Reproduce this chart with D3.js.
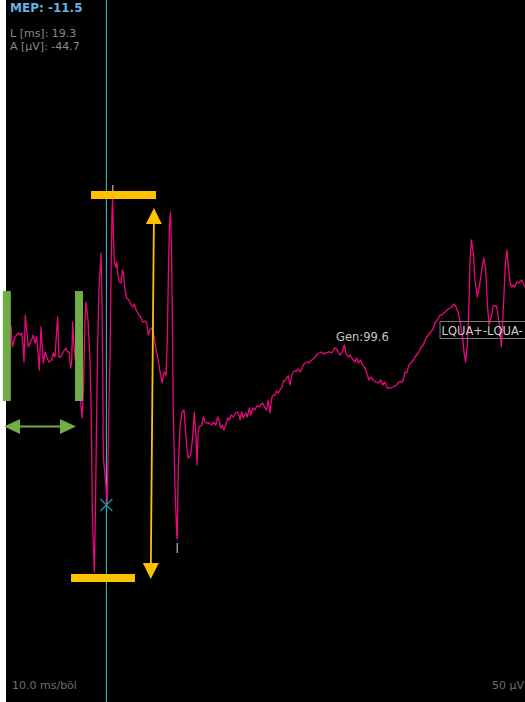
<!DOCTYPE html>
<html>
<head>
<meta charset="utf-8">
<script src="https://cdn.jsdelivr.net/npm/d3@7"></script>
<style>
  html, body { margin: 0; padding: 0; background: #ffffff; }
  svg { display: block; }
</style>
</head>
<body>
<svg id="chart" width="525" height="702"></svg>
<script>
// ---- Data (time in ms, amplitude in µV) ----
const traceTime = [0.96,1.21,1.73,2.37,2.83,3.02,3.33,3.46,3.71,3.98,4.29,4.62,5.06,5.25,5.58,5.90,6.21,6.40,6.73,6.98,7.17,7.50,7.83,8.27,8.79,9.10,9.42,9.75,9.94,10.19,10.52,11.02,11.48,11.87,12.12,12.44,12.63,12.83,13.08,13.46,13.85,14.33,14.62,14.90,15.19,15.38,15.77,16.15,16.35,16.46,16.60,16.83,16.98,17.17,17.37,17.60,17.88,18.27,18.46,18.60,18.71,19.04,19.29,19.48,19.65,19.81,20.00,20.19,20.38,20.50,20.63,20.83,21.10,21.29,21.48,21.79,22.12,22.40,22.60,22.88,23.21,23.65,24.04,24.37,24.67,25.10,25.44,25.87,26.29,26.73,27.06,27.37,27.69,28.02,28.37,28.85,29.29,29.62,30.06,30.29,30.58,30.77,31.02,31.21,31.44,31.63,31.83,32.02,32.17,32.50,32.83,32.92,33.13,33.46,33.85,34.23,34.75,35.06,35.52,35.90,36.21,36.54,36.73,36.98,37.17,37.63,37.94,38.27,38.60,39.04,39.56,39.87,40.33,40.71,40.96,41.29,41.60,41.92,42.25,42.63,42.94,43.27,43.71,44.17,44.48,44.81,45.00,45.33,45.63,46.10,46.40,46.79,47.06,47.44,47.88,48.21,48.65,48.94,49.37,49.71,50.13,50.44,50.77,51.10,51.40,51.73,52.02,52.37,52.69,53.02,53.33,53.65,53.98,54.29,54.62,54.94,55.25,55.54,55.90,56.21,56.60,57.06,57.50,57.94,58.23,58.79,59.10,59.42,59.87,60.19,60.71,61.06,61.35,61.67,61.98,62.31,62.63,62.98,63.27,63.56,63.71,63.94,64.23,64.67,65.06,65.38,65.83,66.15,66.48,66.79,67.12,67.44,67.75,68.21,68.52,69.04,69.48,69.81,70.13,70.63,71.15,71.60,72.06,72.44,72.88,73.33,73.85,74.48,75.13,75.58,76.10,76.40,76.73,77.06,77.50,78.02,78.33,78.65,79.29,79.75,80.25,80.77,81.21,81.67,82.06,82.50,82.94,83.46,83.79,84.42,85.06,85.71,86.15,86.54,86.98,87.44,87.83,88.08,88.37,88.71,89.04,89.23,89.48,89.87,90.19,90.63,91.02,91.48,91.87,92.25,92.56,92.88,93.40,93.71,94.33,94.56,95.00,95.25,95.52,95.83,96.06,96.35,96.63,96.92,97.25,97.56,97.79,98.21,98.65,99.17,99.48,99.81];
const traceAmp = [12.5,1.5,6.5,8.5,7.5,8.5,0,-6,17.5,10,1.5,3.5,6,7.5,3.5,6.5,-3.5,-10,11.5,1.5,-6.5,-1,-3.5,-6,-5,-1.5,-3.5,10,16.5,-3.5,-3.5,-1,1,-1,-1,-9,-6,14,1.5,-7.5,-15,-25,-34,-20,15,24,15,-5,-25,-45,-80,-100,-111,-85,-45,0,30,48.5,25,-10,-53.5,-62.5,-70,-76.5,-50,-25,-5,35,67.5,76.5,60,43.5,41.5,44,38.5,34,33.5,40,38,30,26,25,23,21.5,23,19.5,18,16.5,14,14.5,13.5,7.5,10,11,8.5,0,-5,-11,-16.5,-12,-11,-13,5,35,62.5,69,50,10,-31.5,-68.5,-92.5,-94.5,-60,-38.5,-31,-30,-48.5,-54,-52.5,-43.5,-31,-43.5,-57.5,-40,-38.5,-37.5,-33.5,-36,-36.5,-36.5,-37.5,-36,-37.5,-33.5,-35,-39,-37.5,-40,-37.5,-34,-35,-32.5,-33.5,-31.5,-31,-32.5,-35,-31,-34,-31.5,-33.5,-29,-32.5,-29,-30,-28,-28.5,-27.5,-26.5,-28.5,-30,-25,-31.5,-24,-22.5,-22.5,-20.5,-21.5,-20,-19,-15.5,-15.5,-14,-13,-17.5,-12.5,-11,-10.5,-10.5,-9.5,-11,-8,-6.5,-6,-6.5,-5,-4.5,-3.5,-2,-1.5,-1,-2,-1.5,-1.5,-1,-1,-1.5,0,1,0.5,0,-1,-2.5,-1,2.5,-1.5,-3.5,-2.5,-4,-5,-6,-4,-6.5,-5,-7.5,-9,-12.5,-15,-13.5,-15,-16,-16.5,-15,-17.5,-16,-19,-19,-18.5,-17.5,-16,-16,-15,-11,-11.5,-7.5,-6,-5,-3.5,-1.5,1,2.5,6,7.5,9,10,13.5,15,17.5,17.5,19,20.5,21.5,23,21.5,18.5,12.5,6,-1,-6,1.5,23.5,44,55,48.5,35,26.5,31.5,40,46,40,23.5,12.5,17.5,22,22,18.5,10,1.5,14,31.5,44,50,41,34,31.5,32.5,31.5,34,33.5,35,33.5,31.5];

// Measurement read-outs
const mepValue = "-11.5";
const latencyMs = 19.3;
const amplitudeUv = "-44.7";
const genValue = "99.6";
const sweepLabel = "10.0 ms/böl";
const gainLabel = "50 µV";
const eventLabel = "LQUA+-LQUA-";

// Markers (ms, µV)
const markerX = { t: 19.3, v: -77.5 };
const peakTicks = [ { t: 20.52, v1: 82.5, v2: 79 }, { t: 32.94, v1: -96.5, v2: -101.5 } ];
const greenBars = [ { t: 0.16, vTop: 29.5, vBot: -25.5 }, { t: 14.04, vTop: 29.5, vBot: -25.5 } ];
const greenArrow = { t1: -0.38, t2: 13.46, v: -38.3 };
const orangeBars = [ { t1: 16.35, t2: 28.85, v: 77.5 }, { t1: 12.5, t2: 24.8, v: -114 } ];
const orangeArrow = { tTop: 28.46, vTop: 71, tBot: 27.83, vBot: -114.5 };
const genPos = { t: 63.46, v: 4.5 };
const eventPos = { t: 83.37, v: 11.5 };

// ---- Scales ----
const W = 525, H = 702;
const x = d3.scaleLinear().domain([0, 100]).range([6, 526]);
const y = d3.scaleLinear().domain([175, -176]).range([0, 702]);

const svg = d3.select("#chart");
svg.append("rect").attr("x", 6).attr("y", 0).attr("width", W - 6).attr("height", H).attr("fill", "#000");

const FONT = "'DejaVu Sans', Verdana, sans-serif";

// Cursor line
svg.append("line")
  .attr("x1", x(latencyMs)).attr("x2", x(latencyMs))
  .attr("y1", 0).attr("y2", H)
  .attr("stroke", "#45c6d0").attr("stroke-width", 1);

// Trace
const pts = traceTime.map((t, i) => [t, traceAmp[i]]);
svg.append("path")
  .datum(pts)
  .attr("d", d3.line().x(d => x(d[0])).y(d => y(d[1])))
  .attr("fill", "none")
  .attr("stroke", "#e8087e")
  .attr("stroke-width", 1.3)
  .attr("stroke-linejoin", "round");

// Peak ticks
peakTicks.forEach(p => {
  svg.append("line")
    .attr("x1", x(p.t)).attr("x2", x(p.t))
    .attr("y1", y(p.v1)).attr("y2", y(p.v2))
    .attr("stroke", "#9a9a9a").attr("stroke-width", 1.5);
});

// X marker
{
  const cx = x(markerX.t), cy = y(markerX.v), s = 6;
  svg.append("path")
    .attr("d", `M${cx - s},${cy - s}L${cx + s},${cy + s}M${cx - s},${cy + s}L${cx + s},${cy - s}`)
    .attr("stroke", "#1f8e9c").attr("stroke-width", 1.5).attr("fill", "none");
}

// Green baseline bars
const GREEN = "#70ad47";
greenBars.forEach(b => {
  svg.append("rect")
    .attr("x", x(b.t) - 4).attr("width", 8)
    .attr("y", y(b.vTop)).attr("height", y(b.vBot) - y(b.vTop))
    .attr("fill", GREEN);
});

// Green double arrow
{
  const x1 = x(greenArrow.t1), x2 = x(greenArrow.t2), yy = y(greenArrow.v);
  const hl = 16, hw = 7.5;
  svg.append("line").attr("x1", x1 + hl - 2).attr("x2", x2 - hl + 2).attr("y1", yy).attr("y2", yy)
    .attr("stroke", GREEN).attr("stroke-width", 2);
  svg.append("path").attr("d", `M${x1},${yy}L${x1 + hl},${yy - hw}L${x1 + hl},${yy + hw}Z`).attr("fill", GREEN);
  svg.append("path").attr("d", `M${x2},${yy}L${x2 - hl},${yy - hw}L${x2 - hl},${yy + hw}Z`).attr("fill", GREEN);
}

// Orange peak bars
const ORANGE = "#ffc000";
orangeBars.forEach(b => {
  svg.append("rect")
    .attr("x", x(b.t1)).attr("width", x(b.t2) - x(b.t1))
    .attr("y", y(b.v) - 4).attr("height", 8)
    .attr("fill", ORANGE);
});

// Orange double arrow
{
  const xt = x(orangeArrow.tTop), yt = y(orangeArrow.vTop);
  const xb = x(orangeArrow.tBot), yb = y(orangeArrow.vBot);
  const dx = xb - xt, dy = yb - yt, len = Math.hypot(dx, dy);
  const ux = dx / len, uy = dy / len, nx = -uy, ny = ux;
  const hl = 16, hw = 8;
  const tb = [xt + ux * hl, yt + uy * hl];
  const bb = [xb - ux * hl, yb - uy * hl];
  svg.append("line").attr("x1", tb[0]).attr("y1", tb[1]).attr("x2", bb[0]).attr("y2", bb[1])
    .attr("stroke", ORANGE).attr("stroke-width", 1.8);
  svg.append("path").attr("d", `M${xt},${yt}L${tb[0] + nx * hw},${tb[1] + ny * hw}L${tb[0] - nx * hw},${tb[1] - ny * hw}Z`).attr("fill", ORANGE);
  svg.append("path").attr("d", `M${xb},${yb}L${bb[0] + nx * hw},${bb[1] + ny * hw}L${bb[0] - nx * hw},${bb[1] - ny * hw}Z`).attr("fill", ORANGE);
}

// Gen label
svg.append("text")
  .attr("x", x(genPos.t)).attr("y", y(genPos.v))
  .attr("font-family", FONT).attr("font-size", 11.5).attr("fill", "#c4c4c4")
  .text("Gen:" + genValue);

// Event label with box
{
  const ex = x(eventPos.t), ey = y(eventPos.v);
  svg.append("rect").attr("x", ex + 0.5).attr("y", ey - 5.5).attr("width", 86).attr("height", 17)
    .attr("fill", "none").attr("stroke", "#7a7a7a").attr("stroke-width", 1);
  svg.append("text").attr("x", ex + 2).attr("y", ey + 7.5)
    .attr("font-family", FONT).attr("font-size", 11.5).attr("fill", "#cfcfcf")
    .text(eventLabel);
}

// Header read-outs
svg.append("text").attr("x", 10).attr("y", 12)
  .attr("font-family", FONT).attr("font-size", 12).attr("font-weight", "bold").attr("fill", "#64b4e6")
  .text("MEP: " + mepValue);
svg.append("text").attr("x", 10).attr("y", 36.5)
  .attr("font-family", FONT).attr("font-size", 11).attr("fill", "#8a8a8a")
  .text("L [ms]: " + latencyMs.toFixed(1));
svg.append("text").attr("x", 10).attr("y", 49.5)
  .attr("font-family", FONT).attr("font-size", 11).attr("fill", "#8a8a8a")
  .text("A [µV]: " + amplitudeUv);

// Footer
svg.append("text").attr("x", 12).attr("y", 689)
  .attr("font-family", FONT).attr("font-size", 11).attr("fill", "#6e6e6e")
  .text(sweepLabel);
svg.append("text").attr("x", 492).attr("y", 689)
  .attr("font-family", FONT).attr("font-size", 11).attr("fill", "#6e6e6e")
  .text(gainLabel);
</script>
</body>
</html>
